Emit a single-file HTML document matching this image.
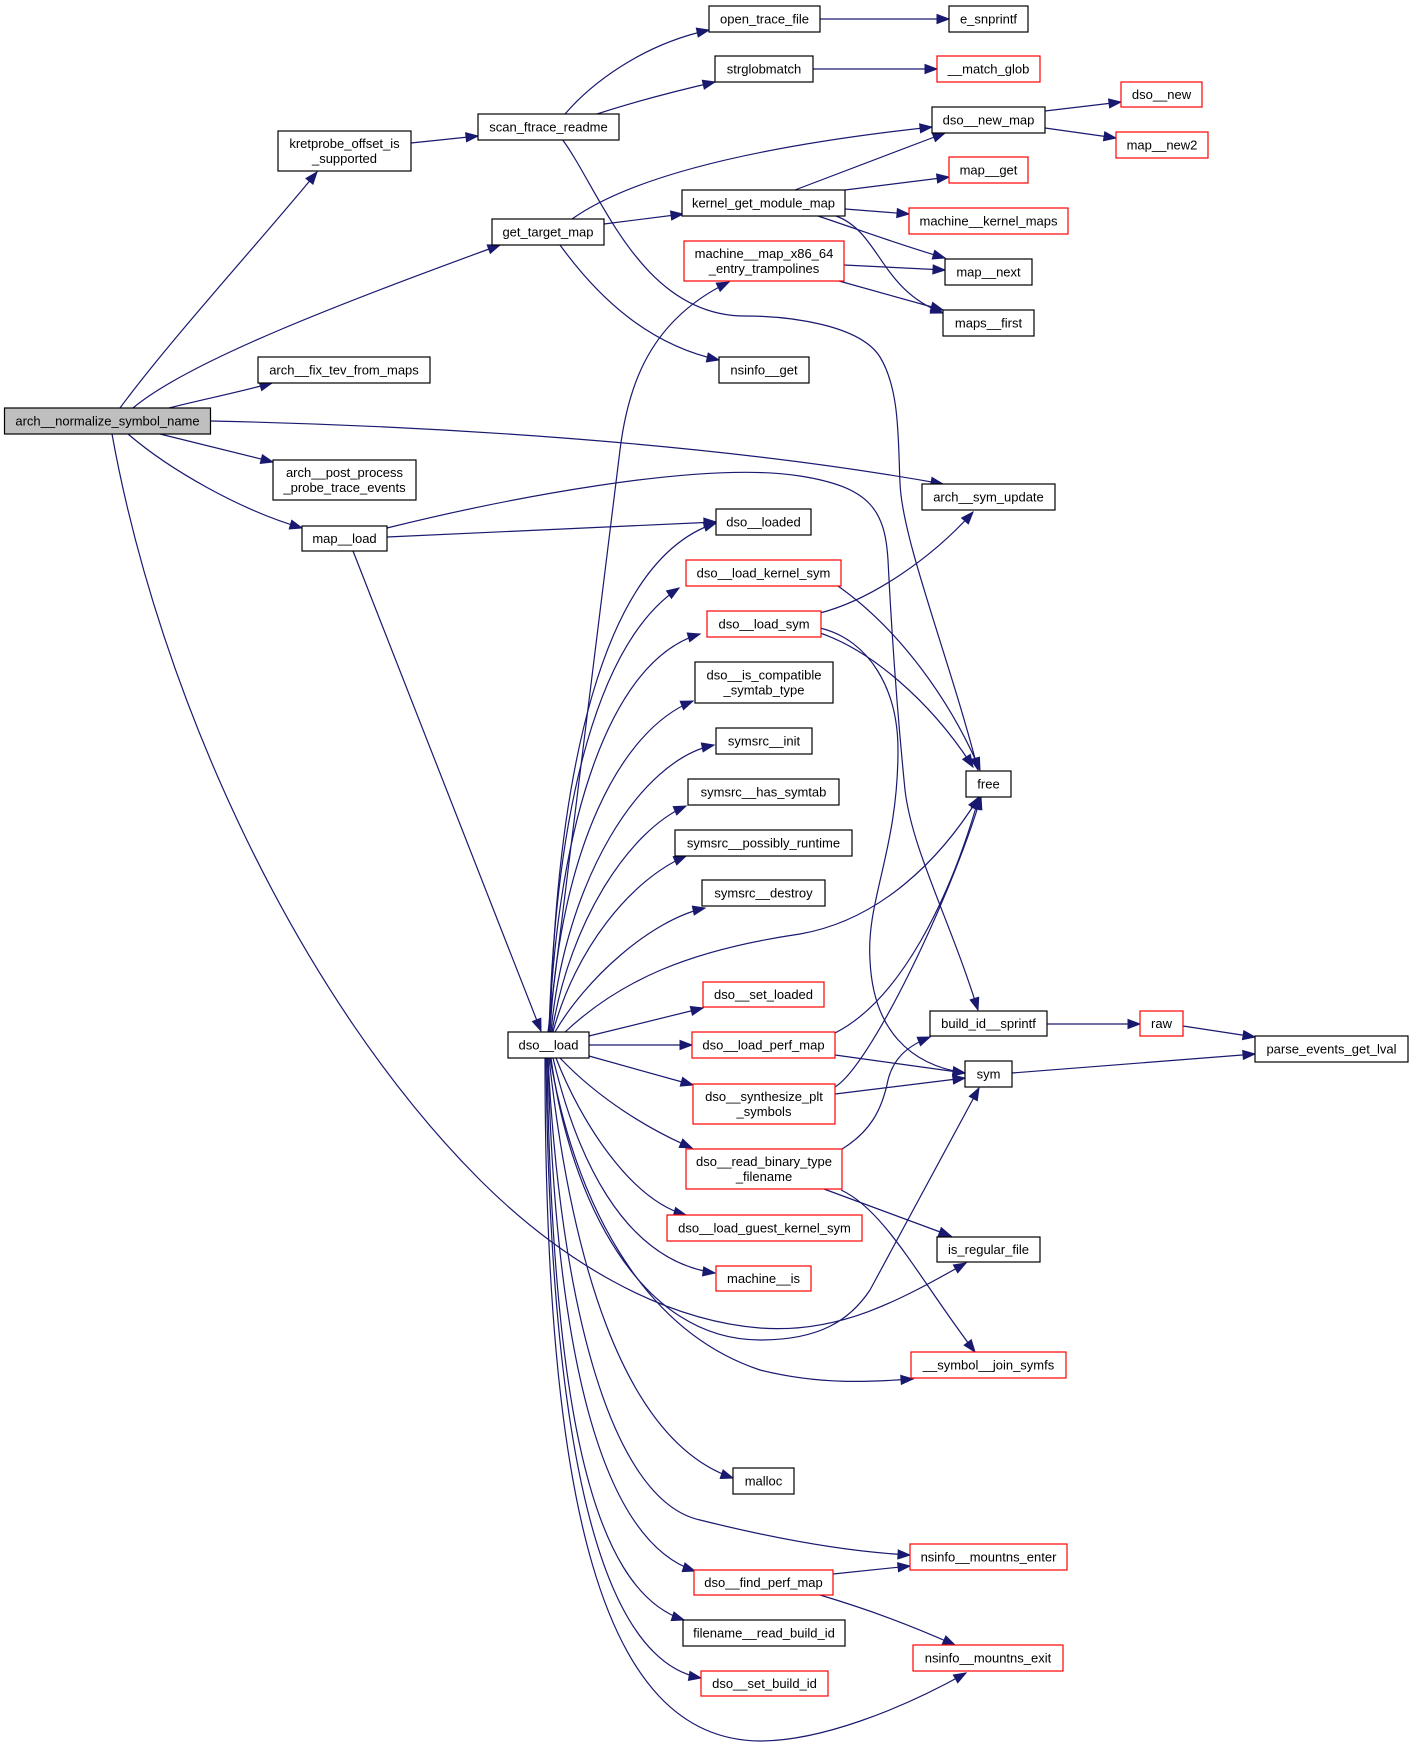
<!DOCTYPE html>
<html><head><meta charset="utf-8"><style>
html,body{margin:0;padding:0;background:#fff;}
svg{display:block;}
text{font-family:"Liberation Sans",Arial,sans-serif;font-size:13px;fill:#000;text-anchor:middle;}
.e{fill:none;stroke:#191970;stroke-width:1.2;marker-end:url(#ah);}
.b{fill:#fff;stroke:#000;stroke-width:1.2;}
.r{fill:#fff;stroke:#ff0000;stroke-width:1.2;}
.g{fill:#bfbfbf;stroke:#000;stroke-width:1.2;}
</style></head><body>
<svg width="1413" height="1746" viewBox="0 0 1413 1746" xmlns="http://www.w3.org/2000/svg">
<defs>
<marker id="ah" markerUnits="userSpaceOnUse" markerWidth="14" markerHeight="12" refX="12" refY="5" orient="auto" overflow="visible">
<path d="M0,0.5 L12,5 L0,9.5 z" fill="#191970" stroke="#191970" stroke-width="1"/>
</marker>
</defs>
<!-- edges -->
<path class="e" d="M120,408 C170,340 270,230 317,172"/>
<path class="e" d="M133,408 C190,360 350,300 500,245"/>
<path class="e" d="M169,408 C200,400 240,392 272,383"/>
<path class="e" d="M211,421 C400,425 700,440 943,484"/>
<path class="e" d="M160,434 L273,462"/>
<path class="e" d="M128,434 C170,470 240,510 302,528"/>
<path class="e" d="M112,434 C160,700 300,1000 480,1180 C560,1260 660,1320 760,1328 C840,1334 900,1300 966,1263"/>
<path class="e" d="M411,143 L478,136"/>
<path class="e" d="M565,114 C590,85 640,45 709,30"/>
<path class="e" d="M597,114 C640,100 680,90 715,82"/>
<path class="e" d="M562,139 C600,190 640,316 745,316 C790,316 860,325 880,357 C900,390 898,440 900,483 C902,540 950,660 978,770"/>
<path class="e" d="M572,219 C620,185 720,150 932,127"/>
<path class="e" d="M604,224 L683,214"/>
<path class="e" d="M560,245 C600,300 650,345 719,360"/>
<path class="e" d="M795,190 L945,133"/>
<path class="e" d="M845,190 L949,177"/>
<path class="e" d="M845,209 L909,214"/>
<path class="e" d="M818,216 C860,230 900,245 945,258"/>
<path class="e" d="M836,216 C880,232 880,290 943,313"/>
<path class="e" d="M844,265 L945,270"/>
<path class="e" d="M839,281 L943,310"/>
<path class="e" d="M1045,111 L1121,102"/>
<path class="e" d="M1045,128 L1116,138"/>
<path class="e" d="M820,19 L949,19"/>
<path class="e" d="M813,69 L937,69"/>
<path class="e" d="M387,537 L716,522"/>
<path class="e" d="M387,528 C500,500 700,460 800,476 C870,487 885,510 888,560 C892,640 898,720 905,790 C912,850 950,920 978,1010"/>
<path class="e" d="M353,551 L541,1031"/>
<!-- dso__load fan up -->
<path class="e" d="M548,1032 L620,450 C628,385 650,320 729,282"/>
<path class="e" d="M550,1032 C556,780 600,560 716,523"/>
<path class="e" d="M549,1032 C556,800 600,640 679,588"/>
<path class="e" d="M549,1032 C558,820 610,660 700,634"/>
<path class="e" d="M550,1032 C560,850 620,730 693,701"/>
<path class="e" d="M551,1032 C565,880 640,760 714,745"/>
<path class="e" d="M552,1032 C570,920 630,830 686,806"/>
<path class="e" d="M553,1032 C575,950 630,880 686,856"/>
<path class="e" d="M555,1032 C585,980 650,920 705,908"/>
<path class="e" d="M564,1033 C620,980 690,950 800,934 C880,920 940,860 979,797"/>
<path class="e" d="M589,1036 L703,1008"/>
<path class="e" d="M589,1045 L692,1045"/>
<path class="e" d="M589,1056 L693,1085"/>
<!-- dso__load fan down -->
<path class="e" d="M560,1058 C600,1100 650,1130 692,1148"/>
<path class="e" d="M556,1058 C580,1120 630,1200 686,1215"/>
<path class="e" d="M553,1058 C575,1150 620,1260 715,1273"/>
<path class="e" d="M551,1058 C570,1200 640,1340 760,1340 C820,1340 850,1320 870,1290 L979,1088"/>
<path class="e" d="M550,1058 C575,1200 640,1330 760,1370 C820,1385 870,1382 913,1379"/>
<path class="e" d="M549,1058 C570,1250 620,1440 733,1478"/>
<path class="e" d="M548,1058 C560,1300 610,1500 700,1520 C780,1540 850,1552 910,1555"/>
<path class="e" d="M548,1058 C555,1350 600,1540 695,1571"/>
<path class="e" d="M547,1058 C552,1400 590,1590 684,1620"/>
<path class="e" d="M546,1058 C550,1450 600,1660 701,1678"/>
<path class="e" d="M545,1058 C545,1500 600,1740 760,1741 C820,1741 900,1710 966,1673"/>
<!-- others -->
<path class="e" d="M833,1574 L910,1566"/>
<path class="e" d="M820,1595 C870,1610 910,1625 955,1645"/>
<path class="e" d="M838,586 C900,630 950,700 980,770"/>
<path class="e" d="M820,613 C870,600 930,560 973,512"/>
<path class="e" d="M820,633 C870,650 930,700 973,767"/>
<path class="e" d="M820,628 C870,640 898,690 898,750 C898,850 866,900 870,960 C873,1030 910,1065 965,1073"/>
<path class="e" d="M835,1033 C900,1000 950,900 979,797"/>
<path class="e" d="M835,1055 L965,1073"/>
<path class="e" d="M835,1087 C870,1066 950,900 981,797"/>
<path class="e" d="M835,1094 L965,1078"/>
<path class="e" d="M842,1149 C870,1132 882,1110 888,1080 C893,1060 905,1047 930,1037"/>
<path class="e" d="M824,1189 L951,1236"/>
<path class="e" d="M841,1190 C885,1210 920,1280 975,1352"/>
<path class="e" d="M1047,1024 L1140,1024"/>
<path class="e" d="M1183,1026 L1255,1037"/>
<path class="e" d="M1012,1073 L1255,1054"/>
<!-- nodes -->
<rect class="g" x="4.5" y="408" width="206" height="26"/><text x="107.5" y="425.5">arch__normalize_symbol_name</text>
<rect class="b" x="278" y="131" width="133" height="40"/><text x="344.5" y="148">kretprobe_offset_is</text><text x="344.5" y="163">_supported</text>
<rect class="b" x="478" y="114" width="141" height="26"/><text x="548.5" y="131.5">scan_ftrace_readme</text>
<rect class="b" x="492" y="219" width="112" height="26"/><text x="548" y="236.5">get_target_map</text>
<rect class="b" x="258" y="357" width="172" height="26"/><text x="344" y="374.5">arch__fix_tev_from_maps</text>
<rect class="b" x="273" y="460" width="143" height="40"/><text x="344.5" y="477">arch__post_process</text><text x="344.5" y="492">_probe_trace_events</text>
<rect class="b" x="302" y="526" width="85" height="25"/><text x="344.5" y="543">map__load</text>
<rect class="b" x="709" y="6" width="111" height="26"/><text x="764.5" y="23.5">open_trace_file</text>
<rect class="b" x="949" y="6" width="79" height="26"/><text x="988.5" y="23.5">e_snprintf</text>
<rect class="b" x="715" y="56" width="98" height="26"/><text x="764" y="73.5">strglobmatch</text>
<rect class="r" x="937" y="56" width="103" height="26"/><text x="988.5" y="73.5">__match_glob</text>
<rect class="r" x="1121" y="82" width="81" height="25"/><text x="1161.5" y="99">dso__new</text>
<rect class="b" x="932" y="107" width="113" height="26"/><text x="988.5" y="124.5">dso__new_map</text>
<rect class="r" x="1116" y="132" width="92" height="26"/><text x="1162" y="149.5">map__new2</text>
<rect class="r" x="949" y="157" width="79" height="26"/><text x="988.5" y="174.5">map__get</text>
<rect class="b" x="682" y="190" width="163" height="26"/><text x="763.5" y="207.5">kernel_get_module_map</text>
<rect class="r" x="909" y="208" width="159" height="26"/><text x="988.5" y="225.5">machine__kernel_maps</text>
<rect class="r" x="684" y="241" width="160" height="40"/><text x="764" y="258">machine__map_x86_64</text><text x="764" y="273">_entry_trampolines</text>
<rect class="b" x="945" y="259" width="87" height="26"/><text x="988.5" y="276.5">map__next</text>
<rect class="b" x="943" y="310" width="91" height="26"/><text x="988.5" y="327.5">maps__first</text>
<rect class="b" x="719" y="357" width="90" height="26"/><text x="764" y="374.5">nsinfo__get</text>
<rect class="b" x="922" y="484" width="133" height="26"/><text x="988.5" y="501.5">arch__sym_update</text>
<rect class="b" x="716" y="509" width="95" height="26"/><text x="763.5" y="526.5">dso__loaded</text>
<rect class="r" x="686" y="560" width="155" height="26"/><text x="763.5" y="577.5">dso__load_kernel_sym</text>
<rect class="r" x="707" y="611" width="114" height="26"/><text x="764" y="628.5">dso__load_sym</text>
<rect class="b" x="695" y="662" width="138" height="41"/><text x="764" y="679.5">dso__is_compatible</text><text x="764" y="694.5">_symtab_type</text>
<rect class="b" x="716" y="728" width="96" height="26"/><text x="764" y="745.5">symsrc__init</text>
<rect class="b" x="688" y="779" width="151" height="26"/><text x="763.5" y="796.5">symsrc__has_symtab</text>
<rect class="b" x="675" y="830" width="177" height="26"/><text x="763.5" y="847.5">symsrc__possibly_runtime</text>
<rect class="b" x="702" y="880" width="123" height="26"/><text x="763.5" y="897.5">symsrc__destroy</text>
<rect class="b" x="966" y="771" width="45" height="26"/><text x="988.5" y="788.5">free</text>
<rect class="r" x="703" y="982" width="121" height="25"/><text x="763.5" y="999">dso__set_loaded</text>
<rect class="b" x="508" y="1032" width="81" height="26"/><text x="548.5" y="1049.5">dso__load</text>
<rect class="r" x="692" y="1032" width="143" height="26"/><text x="763.5" y="1049.5">dso__load_perf_map</text>
<rect class="b" x="930" y="1011" width="117" height="25"/><text x="988.5" y="1028">build_id__sprintf</text>
<rect class="r" x="1140" y="1011" width="43" height="25"/><text x="1161.5" y="1028">raw</text>
<rect class="b" x="1255" y="1036" width="153" height="26"/><text x="1331.5" y="1053.5">parse_events_get_lval</text>
<rect class="b" x="965" y="1061" width="47" height="26"/><text x="988.5" y="1078.5">sym</text>
<rect class="r" x="693" y="1084" width="142" height="40"/><text x="764" y="1101">dso__synthesize_plt</text><text x="764" y="1116">_symbols</text>
<rect class="r" x="686" y="1149" width="156" height="40"/><text x="764" y="1166">dso__read_binary_type</text><text x="764" y="1181">_filename</text>
<rect class="r" x="667" y="1215" width="195" height="26"/><text x="764.5" y="1232.5">dso__load_guest_kernel_sym</text>
<rect class="b" x="937" y="1237" width="103" height="25"/><text x="988.5" y="1254">is_regular_file</text>
<rect class="r" x="716" y="1266" width="95" height="25"/><text x="763.5" y="1283">machine__is</text>
<rect class="r" x="911" y="1352" width="155" height="26"/><text x="988.5" y="1369.5">__symbol__join_symfs</text>
<rect class="b" x="733" y="1468" width="61" height="26"/><text x="763.5" y="1485.5">malloc</text>
<rect class="r" x="910" y="1544" width="157" height="26"/><text x="988.5" y="1561.5">nsinfo__mountns_enter</text>
<rect class="r" x="694" y="1570" width="139" height="25"/><text x="763.5" y="1587">dso__find_perf_map</text>
<rect class="b" x="683" y="1620" width="162" height="26"/><text x="764" y="1637.5">filename__read_build_id</text>
<rect class="r" x="913" y="1645" width="150" height="26"/><text x="988" y="1662.5">nsinfo__mountns_exit</text>
<rect class="r" x="701" y="1671" width="127" height="25"/><text x="764.5" y="1688">dso__set_build_id</text>
</svg>
</body></html>
